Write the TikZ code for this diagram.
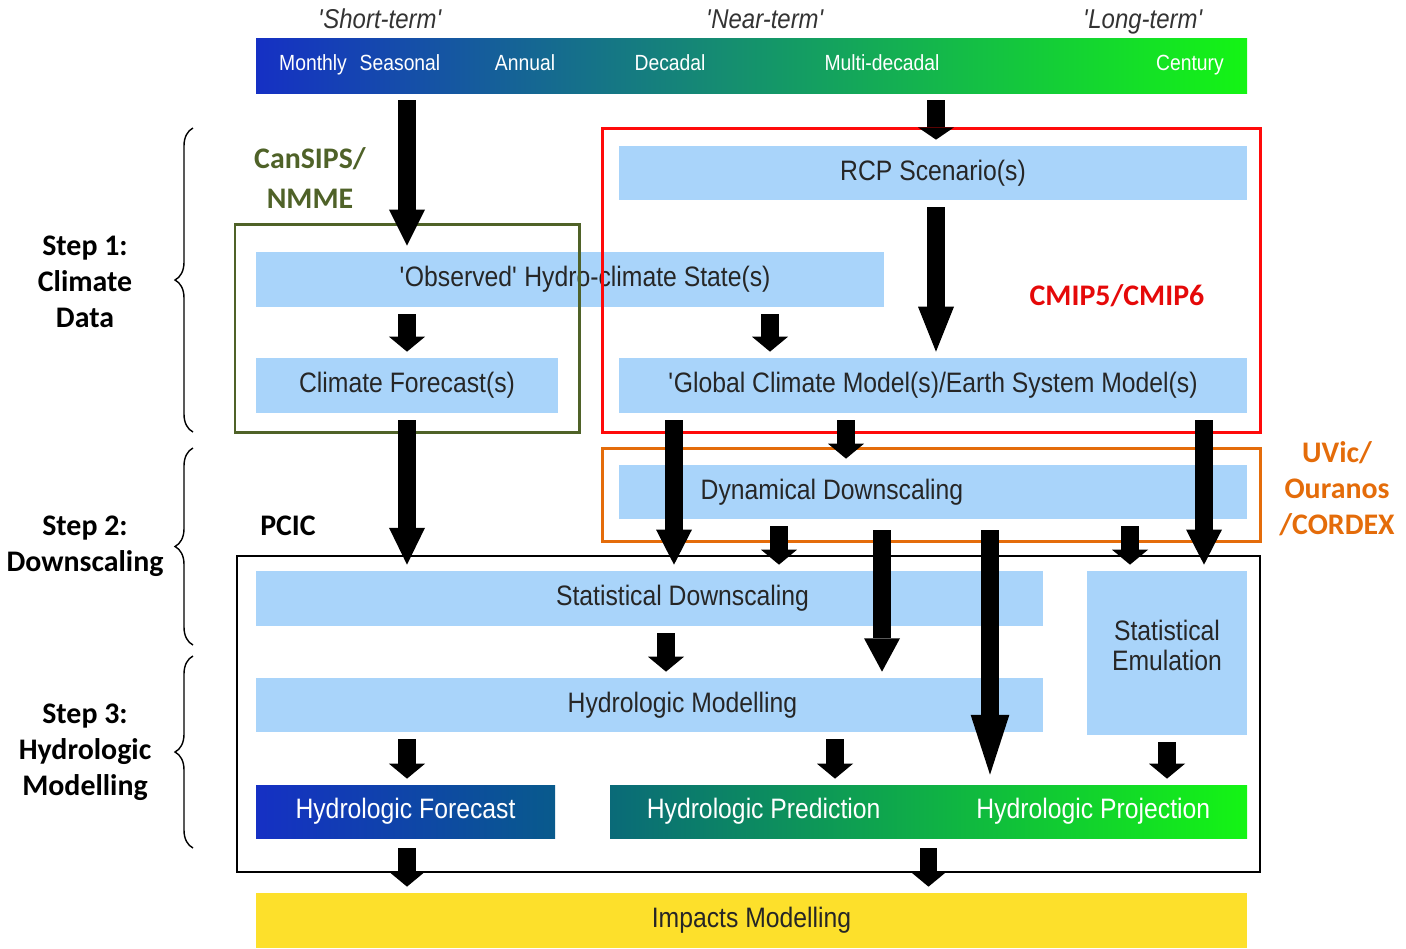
\documentclass[tikz,border=0pt]{standalone}
\usepackage{fontspec}
\setmainfont{Liberation Sans}[FakeStretch=0.88]
\newfontfamily\lblfont{Carlito}
\usetikzlibrary{arrows.meta,decorations.pathreplacing}

\definecolor{boxblue}{HTML}{A9D4FA}
\definecolor{scaleblue}{HTML}{1530C4}
\definecolor{scaleteal}{HTML}{0A6A78}
\definecolor{scalegreen}{HTML}{14F514}
\definecolor{olivegrn}{HTML}{4F6228}
\definecolor{cmipred}{HTML}{FF0A0A}
\definecolor{uvicorange}{HTML}{E46C0A}
\definecolor{impyellow}{HTML}{FDE02B}

\tikzset{
  area/.style 2 args={inner sep=0pt, minimum width=#1*0.02cm, minimum height=#2*0.02cm},
  lbox/.style={fill=boxblue, text=black!85},
  fat/.style={-{Triangle[length=#1, width=20.5pt, line width=0pt]}, line width=9.7pt, shorten <=0.14cm, shorten >=0.12cm},
  fat/.default=8.5pt,
  bandbox/.style={line width=1.7pt},
  srcnote/.style={font=\lblfont\bfseries\fontsize{17}{20.5}\selectfont, align=center},
  stepbrace/.style={decorate, decoration={brace, amplitude=0.36cm}, line width=0.8pt},
  scaleword/.style={anchor=base, text=white, font=\fontsize{12.5}{15}\selectfont},
  termword/.style={anchor=base, font=\itshape\fontsize{15.5}{18}\selectfont, text=black!80}
}

\begin{document}
\begin{tikzpicture}[x=0.02cm, y=-0.02cm, font=\fontsize{16}{18}\selectfont]
			%%%%% START %%%%%
			\useasboundingbox (0,0) rectangle (1406,948);
			
			% time scale
			\node (bar) [area={991}{55}, left color=scaleblue, middle color=scaleteal, right color=scalegreen] at (751.5,65.5) {};
			\node[scaleword] (mon) at (313,70) {Monthly};
			\node[scaleword] (sea) at (400,70) {Seasonal};
			\node[scaleword] (ann) at (525,70) {Annual};
			\node[scaleword] (dec) at (670,70) {Decadal};
			\node[scaleword] (mdec) at (882,70) {Multi-decadal};
			\node[scaleword] (cent) at (1190,70) {Century};
			\node[termword] (short) at (380,28) {\textquotesingle Short-term\textquotesingle};
			\node[termword] (near) at (765,28) {\textquotesingle Near-term\textquotesingle};
			\node[termword] (long) at (1143,28) {\textquotesingle Long-term\textquotesingle};
			
			% boxes
			\node (rcp) [lbox, area={628}{54}] at (933,173) {RCP Scenario(s)};
			\node (obs) [lbox, area={628}{55}] at (570,279.5) {\hspace*{0.6cm}\textquotesingle Observed\textquotesingle\ Hydro-climate State(s)};
			\node (cf) [lbox, area={302}{55}] at (407,385.5) {Climate Forecast(s)};
			\node (gcm) [lbox, area={628}{55}] at (933,385.5) {\textquotesingle Global Climate Model(s)/Earth System Model(s)};
			\node (dd) [lbox, area={628}{54}] at (933,492) {Dynamical Downscaling\hspace*{4.04cm}};
			\node (sd) [lbox, area={787}{55}] at (649.5,598.5) {\hspace*{1.32cm}Statistical Downscaling};
			\node (se) [lbox, area={160}{164}, align=center, font=\fontsize{16}{17}\selectfont] at (1167,653) {Statistical\\Emulation\rule[-0.32cm]{0pt}{0pt}};
			\node (hm) [lbox, area={787}{54}] at (649.5,705) {\hspace*{1.32cm}Hydrologic Modelling};
			\node (hf) [area={299}{53}, text=white, left color=scaleblue, right color=scaleteal!85!blue] at (405.5,811.5) {Hydrologic Forecast};
			\node (hp) [area={637}{53}, text=white, left color=scaleteal, right color=scalegreen] at (928.5,811.5) {Hydrologic Prediction\hspace{1.92cm}Hydrologic Projection};
			\node (imp) [area={991}{55}, fill=impyellow, text=black!85] at (751.5,920.5) {Impacts Modelling};
			
			% groups
			\draw[bandbox, olivegrn] (235,224) rectangle (579,432);
			\draw[bandbox, cmipred] (602,128) rectangle (1260,432);
			\draw[bandbox, uvicorange] (602,448) rectangle (1260,541);
			\draw[line width=1.4pt] (237,556) rectangle (1260,872);
			
			\node[srcnote, text=olivegrn] (cansips) at (310,178) {CanSIPS/\\[2pt]NMME};
			\node[srcnote, text=cmipred!90!black] (cmip) at (1117,296) {CMIP5/CMIP6};
			\node[srcnote, text=uvicorange] (uvic) at (1337,489) {UVic/\\Ouranos\\/CORDEX};
			\node[srcnote] (pcic) at (288,526) {PCIC};
			
			% steps
			\draw[stepbrace] (193,432) -- (193,128);
			\draw[stepbrace] (193,645) -- (193,448);
			\draw[stepbrace] (193,848) -- (193,656);
			\node[srcnote] (step1) at (85,282) {Step 1:\\Climate\\Data};
			\node[srcnote] (step2) at (85,546) {Step 2:\\Downscaling};
			\node[srcnote] (step3) at (85,752) {Step 3:\\Hydrologic\\Modelling};
			
			% arrows
			\coordinate (kB) at (770,0);
			\coordinate (kC) at (674,0);
			\coordinate (kD) at (846,0);
			\coordinate (kE) at (1204,0);
			\coordinate (kF) at (779,0);
			\coordinate (kG) at (882,0);
			\coordinate (kH) at (990,0);
			\coordinate (kI) at (1130,0);
			\coordinate (kJ) at (666,0);
			\coordinate (kK) at (835,0);
			\coordinate (kR) at (936,0);
			
			\draw[fat=20.5pt] (bar.south -| cf) -- (obs.north -| cf);
			\draw[fat=7pt] (bar.south -| kR) -- (rcp.north -| kR);
			\draw[fat=25.6pt] (rcp.south -| kR) -- (gcm.north -| kR);
			\draw[fat] (obs.south -| cf) -- (cf);
			\draw[fat] (obs.south -| kB) -- (gcm.north -| kB);
			\draw[fat=21pt] (cf) -- (sd.north -| cf);
			\draw[fat=20pt] (gcm.south -| kC) -- (sd.north -| kC);
			\draw[fat] (gcm.south -| kD) -- (dd.north -| kD);
			\draw[fat=20pt] (gcm.south -| kE) -- (se.north -| kE);
			\draw[fat] (dd.south -| kF) -- (sd.north -| kF);
			\draw[fat=19pt, shorten <=0.22cm] (dd.south -| kG) -- (hm.north -| kG);
			\draw[fat, -{Triangle[length=34pt, width=22pt, line width=0pt]}, shorten <=0.22cm, shorten >=0.2cm] (dd.south -| kH) -- (hp.north -| kH);
			\draw[fat] (dd.south -| kI) -- (se.north -| kI);
			\draw[fat] (sd.south -| kJ) -- (hm.north -| kJ);
			\draw[fat] (hm.south -| cf) -- (hf.north -| cf);
			\draw[fat] (hm.south -| kK) -- (hp.north -| kK);
			\draw[fat] (se) -- (hp.north -| se);
			\draw[fat, shorten <=0.2cm] (hf.south -| cf) -- (imp.north -| cf);
			\draw[fat, shorten <=0.2cm] (hp) -- (imp.north -| hp);
			
			%%%%% END %%%%%
\end{tikzpicture}
\end{document}
